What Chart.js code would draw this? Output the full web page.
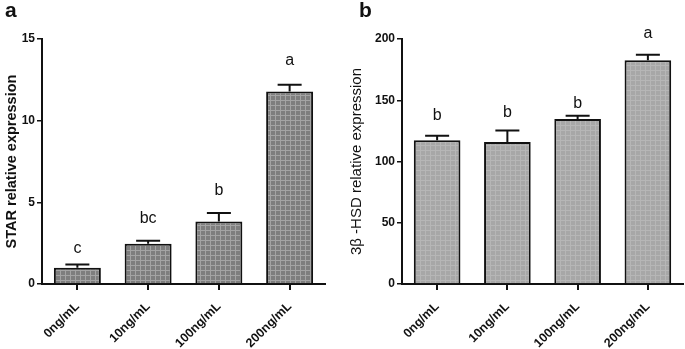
<!DOCTYPE html>
<html>
<head>
<meta charset="utf-8">
<script src="https://cdn.jsdelivr.net/npm/chart.js@4.4.0/dist/chart.umd.min.js"></script>
<style>
  html, body { margin: 0; padding: 0; background: #fff; }
  #wrap { position: relative; width: 685px; height: 349px; overflow: hidden; font-family: "Liberation Sans", Arial, sans-serif; }
  .panel { position: absolute; top: 0; height: 349px; }
  .tag { position: absolute; top: -1px; font-weight: bold; font-size: 21px; line-height: 21px; color: #111; }
</style>
</head>
<body>
<div id="wrap">
  <div class="panel" style="left:0;width:345px"><canvas id="graficoStar"></canvas></div>
  <div class="panel" style="left:345px;width:340px"><canvas id="graficoHsd"></canvas></div>
  <div class="tag" style="left:5px">a</div>
  <div class="tag" style="left:359px">b</div>
</div>
<script>
// Datos
const categorias = ['0ng/mL', '10ng/mL', '100ng/mL', '200ng/mL'];

const starMedia = [1.0, 2.47, 3.82, 11.78];
const starError = [0.2, 0.18, 0.53, 0.42];
const starLetras = ['c', 'bc', 'b', 'a'];
const starLetrasY = [1.92, 3.75, 5.45, 13.4];

const hsdMedia = [117.3, 116.0, 134.7, 182.6];
const hsdError = [3.7, 9.4, 2.7, 4.6];
const hsdLetras = ['b', 'b', 'b', 'a'];
const hsdLetrasY = [133.9, 136.6, 143.9, 201.1];

const fuente = '"Liberation Sans", Arial, sans-serif';

// Trama de las barras
const crearTrama = (base, linea) => {
  const c = document.createElement('canvas');
  c.width = 5; c.height = 5;
  const g = c.getContext('2d');
  g.fillStyle = base;
  g.fillRect(0, 0, 5, 5);
  g.fillStyle = linea;
  g.fillRect(0, 0, 5, 1);
  g.fillRect(0, 0, 1, 5);
  return g.createPattern(c, 'repeat');
};

// Barras de error (solo hacia arriba) y letras de significancia
const pluginError = {
  id: 'barrasError',
  afterDatasetsDraw(chart, args, opts) {
    const ctx = chart.ctx;
    const y = chart.scales.y;
    const meta = chart.getDatasetMeta(0);
    ctx.save();
    ctx.strokeStyle = '#111';
    ctx.lineWidth = 2;
    meta.data.forEach((bar, i) => {
      const yBar = y.getPixelForValue(opts.media[i]);
      const yTop = y.getPixelForValue(opts.media[i] + opts.error[i]);
      ctx.beginPath();
      ctx.moveTo(bar.x, yBar);
      ctx.lineTo(bar.x, yTop);
      ctx.moveTo(bar.x - 12, yTop);
      ctx.lineTo(bar.x + 12, yTop);
      ctx.stroke();
    });
    ctx.fillStyle = '#111';
    ctx.font = '16px ' + fuente;
    ctx.textAlign = 'center';
    ctx.textBaseline = 'alphabetic';
    meta.data.forEach((bar, i) => {
      ctx.fillText(opts.letras[i], bar.x, y.getPixelForValue(opts.letrasY[i]));
    });
    ctx.restore();
  }
};

const crearGrafico = (id, media, error, letras, letrasY, trama, max, paso, titulo, fuenteTitulo, anchoY, derecha) => {
  new Chart(document.getElementById(id).getContext('2d'), {
    type: 'bar',
    data: {
      labels: categorias,
      datasets: [{
        data: media,
        backgroundColor: trama,
        borderColor: '#111',
        borderWidth: 2,
        borderSkipped: 'bottom',
        categoryPercentage: 1,
        barPercentage: 0.664
      }]
    },
    options: {
      responsive: true,
      maintainAspectRatio: false,
      animation: false,
      layout: { padding: { top: 39, right: derecha, bottom: 0, left: 0 } },
      plugins: {
        legend: { display: false },
        tooltip: { enabled: false },
        barrasError: { media: media, error: error, letras: letras, letrasY: letrasY }
      },
      scales: {
        x: {
          grid: { display: true, drawOnChartArea: false, drawTicks: true, offset: false, tickLength: 6, color: '#111', lineWidth: 2 },
          border: { display: true, color: '#111', width: 2 },
          ticks: { color: '#111', font: { family: fuente, size: 12.5, weight: 'bold' }, maxRotation: 45, minRotation: 45, padding: 9 },
          afterFit: (s) => { s.height = 65; s.paddingLeft = 0; s.paddingRight = 0; }
        },
        y: {
          min: 0,
          max: max,
          grid: { display: true, drawOnChartArea: false, drawTicks: true, tickLength: 5, color: '#111', lineWidth: 1.5 },
          border: { display: true, color: '#111', width: 2 },
          ticks: { stepSize: paso, color: '#111', font: { family: fuente, size: 12, weight: 'bold' }, padding: 2 },
          title: { display: true, text: titulo, color: '#111', font: fuenteTitulo, padding: { top: 3, bottom: 0 } },
          afterFit: (s) => { s.width = anchoY; }
        }
      }
    },
    plugins: [pluginError]
  });
};

document.addEventListener('DOMContentLoaded', function() {
  const tramaA = crearTrama('#7e7e7e', '#a4a4a4');
  const tramaB = crearTrama('#a7a7a7', '#b6b6b6');

  crearGrafico('graficoStar', starMedia, starError, starLetras, starLetrasY, tramaA, 15, 5,
    'STAR relative expression', { family: fuente, size: 14.5, weight: 'bold' }, 42, 20);

  crearGrafico('graficoHsd', hsdMedia, hsdError, hsdLetras, hsdLetrasY, tramaB, 200, 50,
    '3β -HSD relative expression', { family: fuente, size: 15, weight: 'normal' }, 57, 2);
});
</script>
</body>
</html>
